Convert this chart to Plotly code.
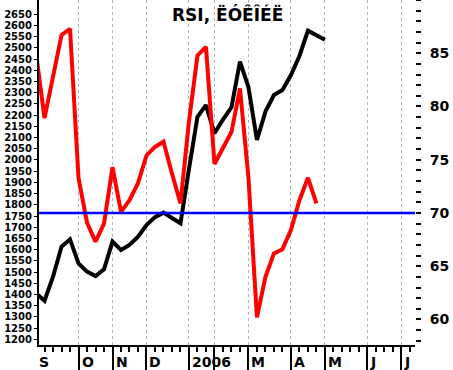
import plotly.graph_objects as go

# ---- data (weekly points, Sep 2005 - May 2006) ----
price = [1405, 1372, 1479, 1613, 1646, 1539, 1502, 1482, 1512, 1636,
         1598, 1621, 1658, 1710, 1745, 1765, 1741, 1718, 1960, 2193,
         2245, 2119, 2180, 2235, 2439, 2325, 2089, 2216, 2290, 2312,
         2379, 2464, 2577, 2556, 2536]
rsi = [85.0, 78.9, 82.8, 86.7, 87.3, 73.3, 69.1, 67.3, 69.0, 74.3,
       70.1, 71.2, 72.8, 75.4, 76.2, 76.7, 73.7, 70.9, 78.6, 84.8,
       85.6, 74.6, 76.1, 77.6, 81.7, 73.3, 60.2, 64.0, 66.2, 66.6,
       68.4, 71.2, 73.3, 70.9]
rsi_level = 70

month_labels = ["S", "O", "N", "D", "2006", "", "M", "A", "M", "J", "J"]
month_week = [0, 5, 9, 13, 18, 21, 25, 30, 34, 39, 43]

left_ticks = list(range(1200, 2651, 50))
right_ticks = [60, 65, 70, 75, 80, 85]
title_text = "RSI, ËÓÊÎÉË"

X_RANGE = [0.35, 44.6]
FONT = "DejaVu Sans"

fig = go.Figure()
fig.add_trace(go.Scatter(x=list(range(len(price))), y=price, mode="lines",
                         line=dict(color="black", width=4), yaxis="y",
                         hoverinfo="skip"))
fig.add_trace(go.Scatter(x=list(range(len(rsi))), y=rsi, mode="lines",
                         line=dict(color="#ff0000", width=4), yaxis="y2",
                         hoverinfo="skip"))

fig.add_shape(type="line", xref="paper", x0=0, x1=1, yref="y2",
              y0=rsi_level, y1=rsi_level,
              line=dict(color="#0000ff", width=2.5), layer="above")

# month labels, placed just right of each month tick
for pos, lab in zip(month_week, month_labels):
    if not lab:
        continue
    fx = (pos - X_RANGE[0]) / (X_RANGE[1] - X_RANGE[0])
    fig.add_annotation(x=fx, xref="paper", y=0, yref="paper",
                       xanchor="left", yanchor="top", xshift=1, yshift=-7,
                       text=lab, showarrow=False,
                       font=dict(family=FONT, size=14, color="black", weight="bold"))

fig.add_annotation(x=0.5, xref="paper", y=1, yref="paper", xanchor="center",
                   yanchor="top", yshift=-2, text=title_text, showarrow=False,
                   font=dict(family=FONT, size=17, color="black", weight="bold"))

fig.update_layout(
    template="none",
    width=453, height=370,
    margin=dict(l=39, r=38, t=0, b=25, pad=0),
    paper_bgcolor="white", plot_bgcolor="white",
    showlegend=False,
    xaxis=dict(range=X_RANGE, tickmode="array", tickvals=month_week,
               automargin=False,
               showticklabels=False, ticks="outside", ticklen=25, tickwidth=1.5,
               tickcolor="black", showgrid=True, gridcolor="#b4b4b4",
               gridwidth=1, griddash="3px,3px", showline=True,
               linecolor="black", linewidth=2, zeroline=False,
               minor=dict(dtick=1, tick0=0, ticks="outside", ticklen=5,
                          tickwidth=1.5, tickcolor="black", showgrid=False)),
    yaxis=dict(range=[1174.5, 2713.8], tickmode="array", tickvals=left_ticks,
               automargin=False,
               ticks="outside", ticklen=3, tickwidth=1, tickcolor="black",
               showline=True, linecolor="black", linewidth=2, showgrid=False,
               zeroline=False, ticklabelstandoff=0,
               tickfont=dict(family=FONT, size=10, color="black", weight="bold")),
    yaxis2=dict(range=[57.6, 90.0], overlaying="y", side="right",
                automargin=False,
                tickmode="array", tickvals=right_ticks, ticks="outside",
                ticklen=5, tickwidth=1.5, tickcolor="black", showline=False,
                showgrid=False, zeroline=False, ticklabelstandoff=6,
                minor=dict(dtick=1, tick0=0, ticks="outside", ticklen=5,
                           tickwidth=1.5, tickcolor="black", showgrid=False),
                tickfont=dict(family=FONT, size=14, color="black", weight="bold")),
)

fig.write_html("out.html",
               config={"displayModeBar": False},
               post_script="document.body.style.margin='0';")
